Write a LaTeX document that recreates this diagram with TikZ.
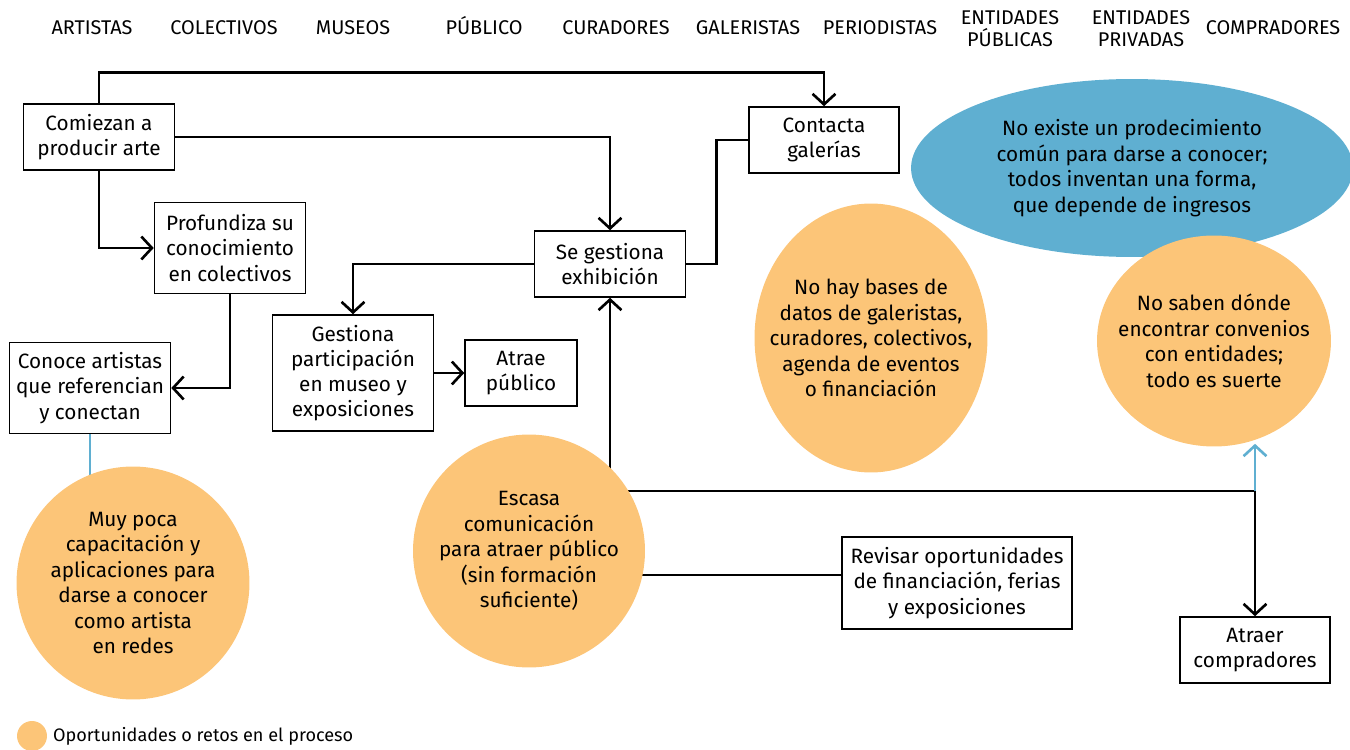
\documentclass[tikz,border=0pt]{standalone}
\usepackage{fontspec}
\setmainfont{Fira Sans}
\usetikzlibrary{arrows.meta,shapes.geometric,backgrounds}
\definecolor{naranja}{HTML}{FCC578}
\definecolor{azul}{HTML}{5FAFD1}
\tikzset{
	caja/.style={draw, line width=0.9pt, align=center, inner sep=0pt, font=\fontsize{11.8}{14.3}\selectfont},
	reto/.style={ellipse, fill=naranja, align=center, inner xsep=-1cm, inner ysep=0pt, font=\fontsize{11.8}{14.5}\selectfont},
	actor/.style={align=center, font=\fontsize{11.3}{12.5}\selectfont},
	>={Straight Barb[length=6pt,width=13pt]}
}
\begin{document}
\begin{tikzpicture}[x=0.02cm, y=-0.02cm, line width=1.5pt]
			\useasboundingbox (0,0) rectangle (1350,750);
			% actores
			\foreach \x/\t [count=\i] in {92/ARTISTAS, 224/COLECTIVOS, 353/MUSEOS, 484/PÚBLICO, 616/CURADORES, 748/GALERISTAS, 880/PERIODISTAS, 1273/COMPRADORES}
				\node[actor, anchor=base] (actor\i) at (\x,35) {\t};
			\node[actor] (publicas) at (1010,29) {ENTIDADES\\PÚBLICAS};
			\node[actor] (privadas) at (1141,29) {ENTIDADES\\PRIVADAS};
			
			% pasos
			\node[caja, minimum width=3.02cm, minimum height=1.32cm] (comiezan) at (99,137) {Comiezan a\\producir arte};
			\node[caja, minimum width=3.02cm, minimum height=1.82cm] (profundiza) at (230,248) {Profundiza su\\conocimiento\\en colectivos};
			\node[caja, minimum width=3.22cm, minimum height=1.82cm] (conoce) at (90,388) {Conoce artistas\\que referencian\\y conectan};
			\node[caja, minimum width=3.22cm, minimum height=2.32cm] (gestiona) at (353,373) {Gestiona\\participación\\en museo y\\exposiciones};
			\node[caja, minimum width=2.24cm, minimum height=1.32cm] (atrae) at (521,373) {Atrae\\público};
			\node[caja, minimum width=3.02cm, minimum height=1.32cm] (segestiona) at (610,264) {Se gestiona\\exhibición};
			\node[caja, minimum width=3.0cm, minimum height=1.32cm] (contacta) at (824,140) {Contacta\\galerías};
			\node[caja, minimum width=4.6cm, minimum height=1.84cm] (revisar) at (957,583) {Revisar oportunidades\\de financiación, ferias\\y exposiciones};
			\node[caja, minimum width=3.0cm, minimum height=1.32cm] (compradores) at (1255,650) {Atraer\\compradores};
			
			% retos
			\node[reto, fill=azul, minimum width=8.84cm, minimum height=3.56cm] (procedimiento) at (1132,168) {No existe un prodecimiento\\común para darse a conocer;\\todos inventan una forma,\\que depende de ingresos};
			\node[reto, minimum width=4.66cm, minimum height=5.38cm] (bases) at (871,338) {No hay bases de\\datos de galeristas,\\curadores, colectivos,\\agenda de eventos\\o financiación};
			\node[reto, minimum width=4.68cm, minimum height=4.22cm] (nosaben) at (1214,341) {No saben dónde\\encontrar convenios\\con entidades;\\todo es suerte};
			\node[reto, minimum width=4.66cm, minimum height=4.66cm] (muypoca) at (133,583) {Muy poca\\capacitación y\\aplicaciones para\\darse a conocer\\como artista\\en redes};
			\node[reto, minimum width=4.64cm, minimum height=4.66cm] (escasa) at (529,551) {Escasa\\comunicación\\para atraer público\\(sin formación\\suficiente)};
			
			% leyenda
			\node[ellipse, fill=naranja, inner sep=0pt, minimum size=0.6cm] (muestra) at (32,736) {};
			\node[anchor=west, font=\fontsize{10.3}{12}\selectfont, inner sep=0pt] (leyenda) at ([xshift=2pt]muestra.east) {Oportunidades o retos en el proceso};
			
			\coordinate (cruce) at (610,491);
			\coordinate (giro) at (cruce -| compradores.north);
			\coordinate (enlace) at ([yshift=0.16cm]revisar.west);
			
			\begin{scope}[on background layer, every path/.append style={line width=1.5pt}]
				% flechas
				\draw[->] (comiezan.north) -- ++(0,-31) -| (contacta.north);
				\draw[->] (comiezan.east) -| (segestiona.north);
				\draw[->] (comiezan.south) |- (profundiza.west);
				\draw[->] (profundiza.south) |- (conoce.east);
				\draw[->] (segestiona.west) -| (gestiona.north);
				\draw[->] (gestiona.east) -- (atrae.west);
				\draw (segestiona.east) -- ++(30,0) |- (contacta.west);
				\draw[->] (cruce) -- (segestiona.south);
				\draw[->] (cruce) -| (compradores.north);
				\draw (enlace) -- (enlace -| escasa.center);
				% lineas azules
				\draw[azul] (conoce.south) -- (conoce.south |- muypoca.center);
				\draw[->, azul] (giro) -- ([yshift=0.08cm]giro |- nosaben.south);
			\end{scope}
			
\end{tikzpicture}
\end{document}
